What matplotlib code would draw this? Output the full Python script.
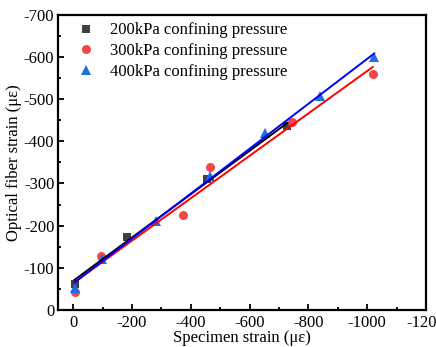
import numpy as np
import matplotlib
matplotlib.use('Agg')
import matplotlib.pyplot as plt
from matplotlib.ticker import MultipleLocator

plt.rcParams['font.family'] = ['Liberation Serif', 'DejaVu Serif']
plt.rcParams['axes.unicode_minus'] = False
plt.rcParams['mathtext.fontset'] = 'stix'

# specimen strain (x) vs optical fiber strain (y), in microstrain
x200 = [-5, -183, -455, -729]
y200 = [-61, -173, -310, -437]
x300 = [-5, -94, -372, -466, -744, -1019]
y300 = [-43, -127, -226, -338, -446, -560]
x400 = [-5, -97, -281, -466, -651, -840, -1024]
y400 = [-53, -120, -212, -318, -420, -507, -601]

labels = ['200kPa confining pressure', '300kPa confining pressure',
          '400kPa confining pressure']

fig = plt.figure(figsize=(4.36, 3.47), dpi=100)
ax = fig.add_axes([0.134, 0.107, 0.843, 0.850])

series = [(x200, y200, 's', '#404040', 'black', labels[0], 6),
          (x300, y300, 'o', '#f04848', 'red', labels[1], 6.5),
          (x400, y400, '^', '#1e6ee6', 'blue', labels[2], 7)]

for xs, ys, mk, mc, lc, lab, ms in series:
    xs = np.array(xs)
    ys = np.array(ys)
    k, b = np.polyfit(xs, ys, 1)
    xf = np.array([xs.min(), xs.max()])
    ax.plot(xf, k * xf + b, color=lc, lw=1.4, zorder=3)

for xs, ys, mk, mc, lc, lab, ms in series:
    ax.plot(xs, ys, mk, color=mc, ms=ms, mew=0, label=lab, zorder=2)

ax.set_xlim(50, -1200)
ax.set_ylim(0, -700)
ax.xaxis.set_major_locator(MultipleLocator(200))
ax.xaxis.set_minor_locator(MultipleLocator(100))
ax.yaxis.set_major_locator(MultipleLocator(100))
ax.yaxis.set_minor_locator(MultipleLocator(50))
ax.tick_params(which='both', direction='in', labelsize=12, width=1.3)
ax.tick_params(which='major', length=4)
ax.tick_params(which='minor', length=2.5)
ax.tick_params(axis='x', pad=4)
ax.tick_params(axis='y', pad=3)
for s in ax.spines.values():
    s.set_linewidth(1.6)

ax.set_xlabel('Specimen strain (\u03bc\u03b5)', fontsize=12, labelpad=-1)
ax.set_ylabel('Optical fiber strain (\u03bc\u03b5)', fontsize=12, labelpad=1)

ax.legend(loc='upper left', frameon=False, fontsize=12, handletextpad=0.45,
          labelspacing=0.28, borderaxespad=0.05, handlelength=2.0,
          bbox_to_anchor=(0.01, 1.0))

fig.savefig('out.png', dpi=100)
